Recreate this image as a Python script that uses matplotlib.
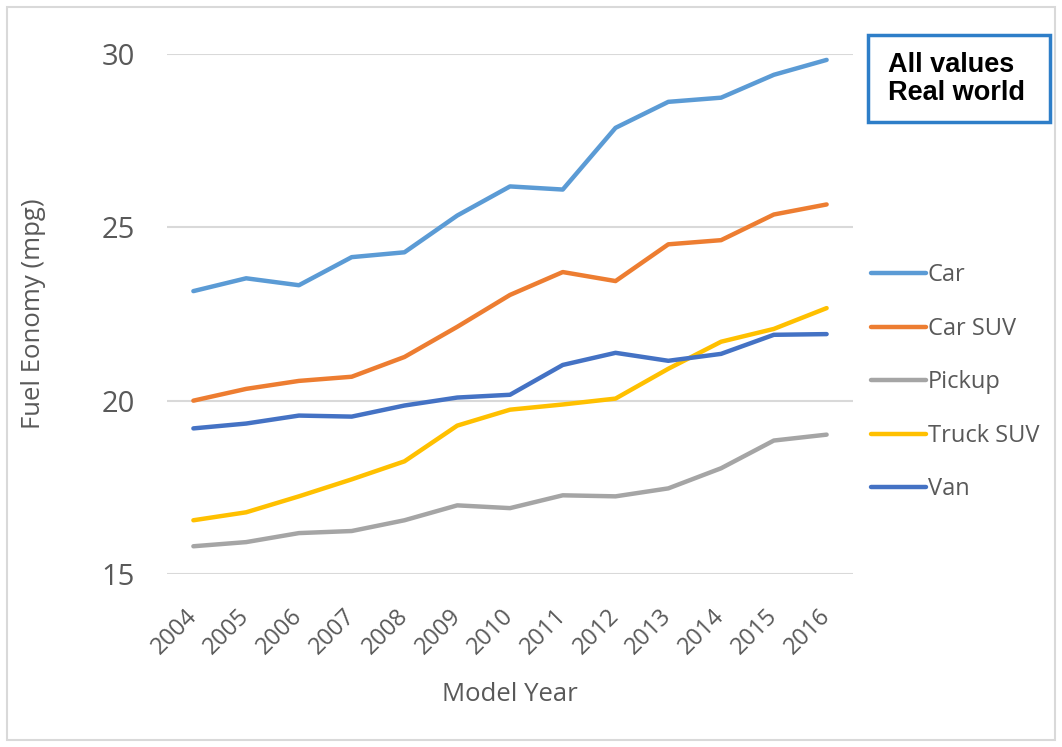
import matplotlib.pyplot as plt
import matplotlib.transforms as mtransforms
from matplotlib.patches import Rectangle

years = [2004, 2005, 2006, 2007, 2008, 2009, 2010, 2011, 2012, 2013, 2014, 2015, 2016]
car = [23.16, 23.53, 23.33, 24.14, 24.28, 25.34, 26.18, 26.09, 27.87, 28.62, 28.74, 29.40, 29.83]
car_suv = [20.0, 20.34, 20.57, 20.69, 21.26, 22.13, 23.05, 23.71, 23.45, 24.51, 24.63, 25.37, 25.66]
pickup = [15.80, 15.92, 16.18, 16.24, 16.55, 16.98, 16.90, 17.27, 17.24, 17.47, 18.05, 18.85, 19.02]
truck_suv = [16.55, 16.78, 17.24, 17.73, 18.25, 19.28, 19.74, 19.89, 20.06, 20.92, 21.70, 22.07, 22.67]
van = [19.20, 19.34, 19.57, 19.54, 19.86, 20.09, 20.17, 21.03, 21.38, 21.15, 21.35, 21.90, 21.92]

series = [("Car", car, "#5B9BD5"),
          ("Car SUV", car_suv, "#ED7D31"),
          ("Pickup", pickup, "#A5A5A5"),
          ("Truck SUV", truck_suv, "#FFC000"),
          ("Van", van, "#4472C4")]

plt.rcParams['font.family'] = ['Open Sans', 'DejaVu Sans']
grey = "#595959"

fig = plt.figure(figsize=(10.62, 7.47), dpi=100)
ax = fig.add_axes([167/1062, 1-574/747, (853-167)/1062, (574-54)/747])

for name, vals, col in series:
    ax.plot(years, vals, color=col, lw=3.2, label=name, solid_capstyle='round', clip_on=False)

ax.set_xlim(2003.5, 2016.5)
ax.set_ylim(15, 30)
ax.set_yticks([15, 20, 25, 30])
ax.set_xticks(years)
ax.set_xticklabels([str(y) for y in years], rotation=45, ha='right', va='center',
                   rotation_mode='anchor', fontsize=17, color=grey)
shift = mtransforms.ScaledTranslation(-6/100, 0, fig.dpi_scale_trans)
for lab in ax.get_xticklabels():
    lab.set_transform(lab.get_transform() + shift)
ax.tick_params(axis='y', labelsize=21, colors=grey, length=0, pad=23)
ax.tick_params(axis='x', length=0, pad=28)
ax.grid(axis='y', color="#D9D9D9", lw=1.5)
ax.set_axisbelow(True)
for s in ax.spines.values():
    s.set_visible(False)

ax.set_xlabel("Model Year", fontsize=18.5, color=grey, labelpad=16)
ax.set_ylabel("Fuel Eonomy (mpg)", fontsize=18.5, color=grey, labelpad=40)

fig.legend(loc='upper left', bbox_to_anchor=(850/1062, 1-242/747), frameon=False,
           fontsize=17, labelcolor=grey, handlelength=2.3, handletextpad=0.1,
           labelspacing=1.25)

# note box
fig.patches.append(Rectangle((868/1062, 1-122/747), (1050-868)/1062, (122-35)/747,
                             transform=fig.transFigure, fill=False,
                             edgecolor="#2E7EC8", lw=2.5))
fig.text(888/1062, 1-79/747, "All values\nReal world", fontsize=19.5, fontweight='bold',
         family='Liberation Sans', color='black', va='center', ha='left', linespacing=1.1)

# outer border
fig.patches.append(Rectangle((7/1062, 7/747), 1-14/1062, 1-14/747,
                             transform=fig.transFigure, fill=False,
                             edgecolor="#D9D9D9", lw=1.5))

fig.savefig("out.png", dpi=100)
